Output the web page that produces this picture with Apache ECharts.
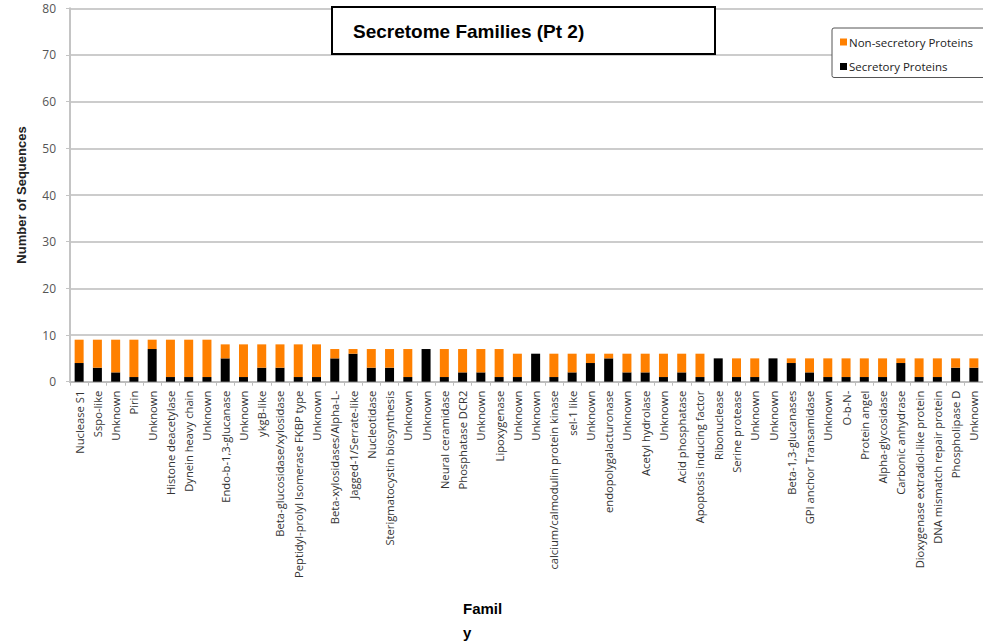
<!DOCTYPE html>
<html>
<head>
<meta charset="utf-8">
<script src="https://cdn.jsdelivr.net/npm/echarts@6/dist/echarts.min.js"></script>
<style>
  html, body { margin: 0; padding: 0; background: #fff; }
  #chart { width: 983px; height: 643px; }
</style>
</head>
<body>
<div id="chart"></div>
<script>
// Protein families (x axis categories)
const families = [
  'Nuclease S1', 'Sspo-like', 'Unknown', 'Pirin', 'Unknown',
  'Histone deacetylase', 'Dynein heavy chain', 'Unknown', 'Endo-b-1,3-glucanase', 'Unknown',
  'ykgB-like', 'Beta-glucosidase/xylosidase', 'Peptidyl-prolyl Isomerase FKBP type', 'Unknown', 'Beta-xylosidases/Alpha-L-',
  'Jagged-1/Serrate-like', 'Nucleotidase', 'Sterigmatocystin biosynthesis', 'Unknown', 'Unknown',
  'Neural ceramidase', 'Phosphatase DCR2', 'Unknown', 'Lipoxygenase', 'Unknown',
  'Unknown', 'calcium/calmodulin protein kinase', 'sel-1 like', 'Unknown', 'endopolygalacturonase',
  'Unknown', 'Acetyl hydrolase', 'Unknown', 'Acid phosphatase', 'Apoptosis inducing factor',
  'Ribonuclease', 'Serine protease', 'Unknown', 'Unknown', 'Beta-1,3-glucanases',
  'GPI anchor Transamidase', 'Unknown', 'O-b-N-', 'Protein angel', 'Alpha-glycosidase',
  'Carbonic anhydrase', 'Dioxygenase extradiol-like protein', 'DNA mismatch repair protein', 'Phospholipase D', 'Unknown'
];

// Sequence counts per family
const secretory = [
  4, 3, 2, 1, 7, 1, 1, 1, 5, 1,
  3, 3, 1, 1, 5, 6, 3, 3, 1, 7,
  1, 2, 2, 1, 1, 6, 1, 2, 4, 5,
  2, 2, 1, 2, 1, 5, 1, 1, 5, 4,
  2, 1, 1, 1, 1, 4, 1, 1, 3, 3
];
const nonSecretory = [
  5, 6, 7, 8, 2, 8, 8, 8, 3, 7,
  5, 5, 7, 7, 2, 1, 4, 4, 6, 0,
  6, 5, 5, 6, 5, 0, 5, 4, 2, 1,
  4, 4, 5, 4, 5, 0, 4, 4, 0, 1,
  3, 4, 4, 4, 4, 1, 4, 4, 2, 2
];

// Value axis ticks
const yMin = 0, yMax = 80, yStep = 10;

const chart = echarts.init(document.getElementById('chart'), null, { renderer: 'svg' });

chart.setOption({
  animation: false,
  backgroundColor: '#ffffff',
  title: [
    {
      text: 'Secretome Families (Pt 2)',
      left: 332, top: 7,
      padding: [14, 131, 13, 21],
      backgroundColor: '#ffffff',
      borderColor: '#000000',
      borderWidth: 2,
      textStyle: { fontFamily: 'Liberation Sans', fontWeight: 'bold', fontSize: 19, lineHeight: 20, color: '#000' }
    },
    {
      text: 'Famil\ny',
      left: 463, top: 596,
      padding: 0,
      textStyle: { fontFamily: 'Liberation Sans', fontWeight: 'bold', fontSize: 15, lineHeight: 24, color: '#000' }
    }
  ],
  legend: {
    orient: 'vertical',
    left: 832, top: 28,
    padding: [8, 40, 5, 8],
    itemGap: 12.5,
    itemWidth: 7, itemHeight: 7,
    icon: 'rect',
    backgroundColor: '#ffffff',
    borderColor: '#555555',
    borderWidth: 1,
    borderRadius: 2,
    data: ['Non-secretory Proteins', 'Secretory Proteins'],
    textStyle: { fontFamily: 'Open Sans', fontSize: 11.5, color: '#222', padding: [0, 0, 0, -3] }
  },
  grid: { left: 70, right: 0, top: 8.3, bottom: 261.3, containLabel: false },
  xAxis: {
    type: 'category',
    data: families,
    axisLine: { lineStyle: { color: '#bdbdbd', width: 2 } },
    axisTick: { show: true, length: 4, lineStyle: { color: '#bdbdbd' } },
    axisLabel: {
      interval: 0, rotate: 90, margin: 9,
      fontFamily: 'Open Sans', fontSize: 11.2, color: '#333'
    }
  },
  yAxis: {
    type: 'value',
    min: yMin, max: yMax, interval: yStep,
    name: 'Number of Sequences',
    nameLocation: 'middle',
    nameGap: 42,
    nameTextStyle: { fontFamily: 'Liberation Sans', fontWeight: 'bold', fontSize: 13, color: '#222' },
    axisLine: { show: true, lineStyle: { color: '#c4c4c4', width: 2 } },
    axisTick: { show: true, length: 4, lineStyle: { color: '#c4c4c4' } },
    axisLabel: { margin: 14, fontFamily: 'Open Sans', fontSize: 12, color: '#555' },
    splitLine: { show: true, lineStyle: { color: '#cccccc', width: 2 } }
  },
  series: [
    {
      name: 'Secretory Proteins',
      type: 'bar',
      stack: 'total',
      barWidth: 9,
      itemStyle: { color: '#000000' },
      data: secretory
    },
    {
      name: 'Non-secretory Proteins',
      type: 'bar',
      stack: 'total',
      barWidth: 9,
      itemStyle: { color: '#ff8000' },
      data: nonSecretory
    }
  ]
});
</script>
</body>
</html>
